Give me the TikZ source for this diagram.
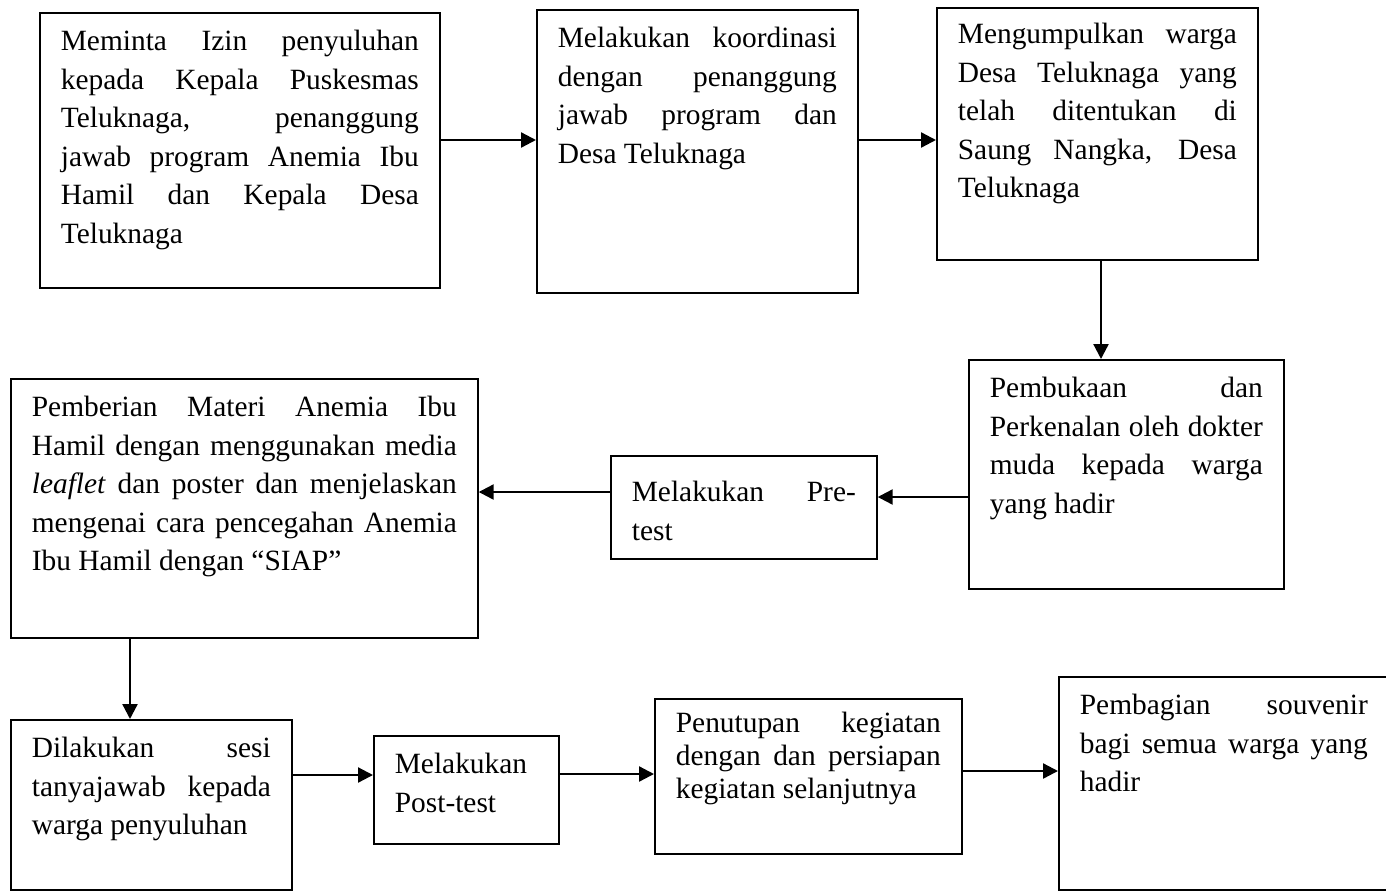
\documentclass[tikz,border=0pt]{standalone}
\usepackage{fontspec}
\setmainfont{Liberation Serif}
\usetikzlibrary{arrows.meta}

\tikzset{
  langkah/.style={draw, line width=0.85pt, anchor=north west, inner xsep=10.5pt, inner ysep=0pt,
    align=justify, text height=19pt, font=\fontsize{14.7}{19.25}\selectfont},
  panah/.style={-{Triangle[length=7.5pt, width=7.5pt]}, line width=1.15pt},
}

\begin{document}
\begin{tikzpicture}[x=0.5pt, y=-0.5pt]
    \clip (0,0) rectangle (1386,894);

    % baris atas
    \node[langkah, text width=179pt, text depth=118.5pt] (izin) at (39,12)
        {Meminta Izin penyuluhan\linebreak kepada Kepala Puskesmas\linebreak Teluknaga, penanggung\linebreak jawab program Anemia Ibu\linebreak Hamil dan Kepala Desa\linebreak Teluknaga};
    \node[langkah, text width=139.5pt, text depth=122.5pt] (koordinasi) at (536,9)
        {Melakukan koordinasi\linebreak dengan penanggung\linebreak jawab program dan\linebreak Desa Teluknaga};
    \node[langkah, text width=139.5pt, text height=18pt, text depth=108pt] (kumpul) at (936,7)
        {Mengumpulkan warga\linebreak Desa Teluknaga yang\linebreak telah ditentukan di\linebreak Saung Nangka, Desa\linebreak Teluknaga};

    % baris tengah
    \node[langkah, text width=136.5pt, text depth=95.5pt] (pembukaan) at (968,359)
        {Pembukaan dan\linebreak Perkenalan oleh dokter\linebreak muda kepada warga\linebreak yang hadir};
    \node[langkah, text width=112pt, text height=23pt, text depth=28.5pt] (pretest) at (610,455)
        {Melakukan Pre-\linebreak test};
    \node[langkah, text width=212.5pt, text depth=110.5pt] (materi) at (10,378)
        {Pemberian Materi Anemia Ibu\linebreak Hamil dengan menggunakan media\linebreak \textit{leaflet} dan poster dan menjelaskan\linebreak mengenai cara pencegahan Anemia\linebreak Ibu Hamil dengan “SIAP”};

    % baris bawah
    \node[langkah, text width=119.5pt, text depth=66pt] (tanya) at (10,719)
        {Dilakukan sesi\linebreak tanyajawab kepada\linebreak warga penyuluhan};
    \node[langkah, text width=71.5pt, text depth=35pt] (posttest) at (373,735)
        {Melakukan\\ Post-test};
    \node[langkah, text width=132.5pt, text height=17pt, text depth=60.5pt,
          font=\fontsize{14.7}{16.5}\selectfont] (penutupan) at (654,698)
        {Penutupan kegiatan\linebreak dengan dan persiapan\linebreak kegiatan selanjutnya};
    \node[langkah, text width=144pt, text depth=87.5pt] (souvenir) at (1058,676)
        {Pembagian souvenir\linebreak bagi semua warga yang\linebreak hadir};

    \path[panah]
        (izin.east |- 0,140) edge (koordinasi.west |- 0,140)
        (koordinasi.east |- 0,140) edge (kumpul.west |- 0,140)
        (kumpul.south -| 1101,0) edge (pembukaan.north -| 1101,0)
        (pembukaan.west |- 0,497) edge (pretest.east |- 0,497)
        (pretest.west |- 0,492) edge (materi.east |- 0,492)
        (materi.south -| 130,0) edge (tanya.north -| 130,0)
        (tanya.east |- 0,775) edge (posttest.west |- 0,775)
        (posttest.east |- 0,774) edge (penutupan.west |- 0,774)
        (penutupan.east |- 0,771) edge (souvenir.west |- 0,771);
\end{tikzpicture}
\end{document}
